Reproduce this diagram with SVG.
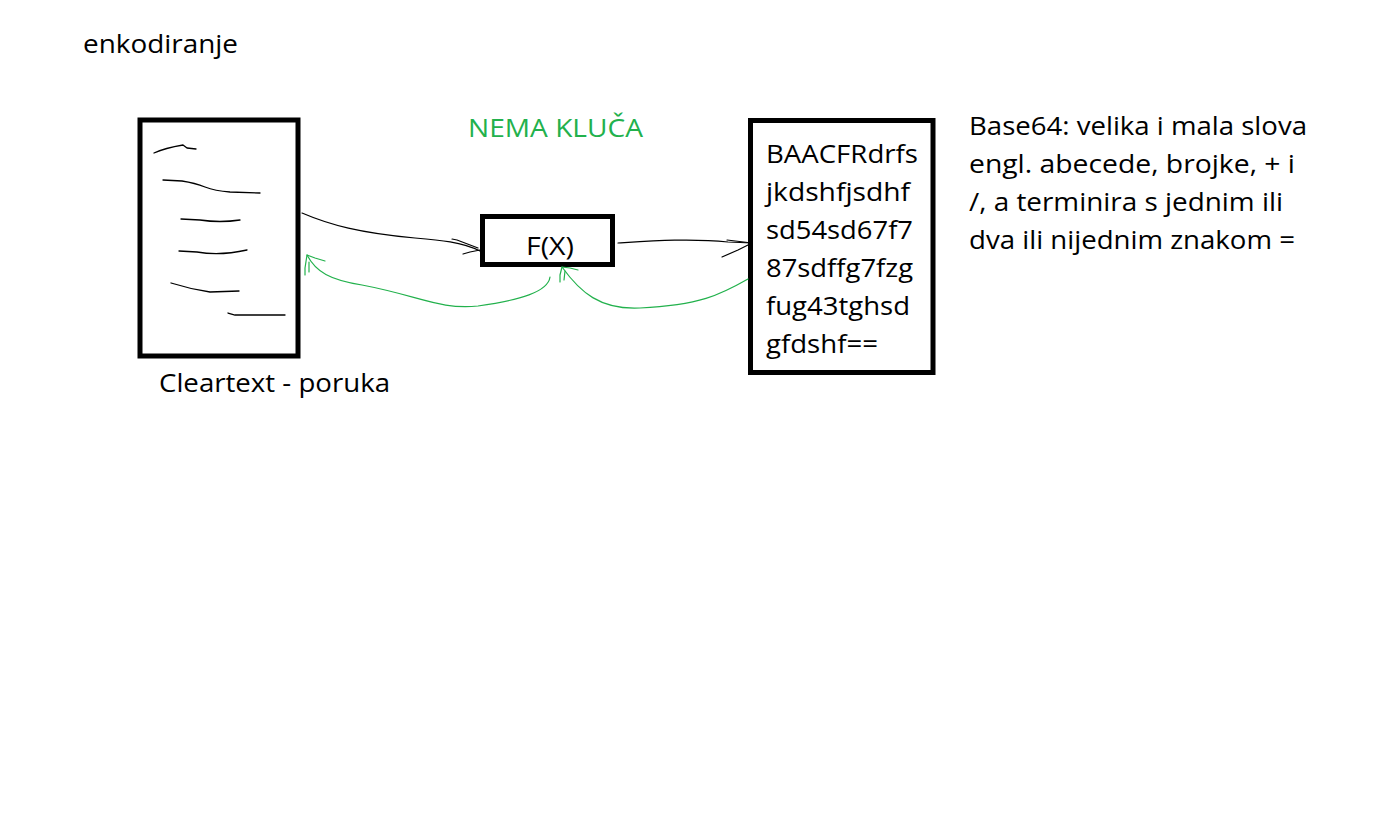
<svg xmlns="http://www.w3.org/2000/svg" width="1387" height="818" viewBox="0 0 1387 818">
<style>
text{font-family:"Open Sans","Noto Sans","Liberation Sans",sans-serif;font-size:26px;fill:#000}
.box{fill:#fff;stroke:#000;stroke-width:5}
.scr{fill:none;stroke:#000;stroke-width:1.3;stroke-linecap:round;stroke-linejoin:round}
.blk{fill:none;stroke:#000;stroke-width:1.2;stroke-linecap:round;stroke-linejoin:round}
.grn{fill:none;stroke:#22B14C;stroke-width:1.2;stroke-linecap:round;stroke-linejoin:round}
.g{fill:#22B14C}
</style>
<rect width="1387" height="818" fill="#fff"/>
<g id="title"><text x="83" y="53" textLength="155" lengthAdjust="spacingAndGlyphs">enkodiranje</text></g>
<g id="nema-kljuca"><text class="g" x="468" y="137" textLength="175" lengthAdjust="spacingAndGlyphs">NEMA KLUČA</text></g>
<g id="cleartext">
<rect class="box" x="140" y="120" width="158" height="236"/>
<path class="scr" d="M154,153 Q165,148 183,145 L187,148 L196,149"/>
<path class="scr" d="M163,180 L182,181 Q195,183 205,187 Q215,191 230,192 L260,193"/>
<path class="scr" d="M181,219 L200,220 Q220,223 240,220"/>
<path class="scr" d="M179,251 L197,252 Q220,256 247,250"/>
<path class="scr" d="M171,283 Q190,289 210,292 L239,291"/>
<path class="scr" d="M228,313 L235,315 L285,315"/>
<text x="159" y="392" textLength="231" lengthAdjust="spacingAndGlyphs">Cleartext - poruka</text>
</g>
<g id="fx">
<rect class="box" x="482.5" y="216.5" width="130" height="48"/>
<text x="526" y="255" font-size="28" textLength="48" lengthAdjust="spacingAndGlyphs">F(X)</text>
</g>
<g id="encoded">
<rect class="box" x="750.5" y="120.5" width="182.5" height="252"/>
<text x="766" y="163" textLength="152" lengthAdjust="spacingAndGlyphs">BAACFRdrfs</text>
<text x="766" y="201" textLength="144" lengthAdjust="spacingAndGlyphs">jkdshfjsdhf</text>
<text x="766" y="239" textLength="147" lengthAdjust="spacingAndGlyphs">sd54sd67f7</text>
<text x="766" y="277" textLength="147" lengthAdjust="spacingAndGlyphs">87sdffg7fzg</text>
<text x="766" y="315" textLength="144" lengthAdjust="spacingAndGlyphs">fug43tghsd</text>
<text x="766" y="353" textLength="112" lengthAdjust="spacingAndGlyphs">gfdshf==</text>
</g>
<g id="base64-note">
<text x="969" y="135" textLength="338" lengthAdjust="spacingAndGlyphs">Base64: velika i mala slova</text>
<text x="969" y="173" textLength="326" lengthAdjust="spacingAndGlyphs">engl. abecede, brojke, + i</text>
<text x="969" y="211" textLength="314" lengthAdjust="spacingAndGlyphs">/, a terminira s jednim ili</text>
<text x="969" y="249" textLength="326" lengthAdjust="spacingAndGlyphs">dva ili nijednim znakom =</text>
</g>
<g id="connectors">
<path class="blk" d="M302,213 C330,225 360,233 415,238 C440,240 462,242 480,251"/>
<path class="blk" d="M452,239 L457,240 L478,248 M463,254 L470,252 L480,250"/>
<path class="blk" d="M618,243 C650,241 690,238 728,242 L752,243"/>
<path class="blk" d="M727,240 L752,243 M722,257 L738,250 L752,243"/>
<path class="grn" d="M550,277 C548,292 520,300 478,306 C440,310 420,296 362,285 C330,280 316,272 307,255"/>
<path class="grn" d="M305,275 L305,268 L307,255 L315,258 L325,261 M309,272 L309,262"/>
<path class="grn" d="M748,279 C720,295 700,305 640,308 C600,310 580,292 562,267"/>
<path class="grn" d="M560,282 L560,275 L562,267 L570,268 L578,270 M564,280 L565,271"/>
</g>
</svg>
